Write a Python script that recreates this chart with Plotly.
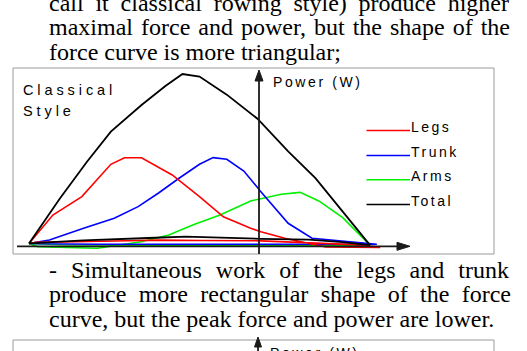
import json
import plotly.graph_objects as go

# ---------------- data (drive phase + recovery phase) ----------------
# x: handle position, % of drive length ; y: power (W)
legs_drive_x = [0, 7, 15.5, 24, 28, 33, 42, 50, 57, 65, 68, 75, 87, 103]
legs_drive = [15, 180, 287, 475, 513, 513, 413, 287, 170, 103, 83, 45, -6, -8]
legs_rec_x = [95, 68, 50, 38, 25, 2, 0]
legs_rec = [8, 30, 32, 34, 29, 21, 15]

trunk_drive_x = [0, 6, 16, 25, 32, 38, 44, 50, 54, 58, 63, 68, 76, 83, 102]
trunk_drive = [15, 35, 103, 161, 229, 308, 394, 475, 514, 504, 436, 316, 132, 45, 10]
trunk_rec_x = [80, 50, 20, 3, 0]
trunk_rec = [9, 10, 10, 13, 15]

arms_drive_x = [0, 2.5, 20, 33, 41, 48, 56, 65, 74, 79.5, 85, 92, 100]
arms_drive = [15, -4, -13, 25, 64, 122, 180, 262, 301, 312, 262, 165, 5]
arms_rec_x = [70, 40, 10, 0]
arms_rec = [4, 5, 7, 15]

total_drive_x = [0, 9, 17, 24, 33, 40, 45, 50, 58, 67, 76, 84, 92, 100]
total_drive = [15, 275, 490, 665, 820, 930, 1000, 985, 880, 740, 550, 395, 200, 5]
total_rec_x = [92, 82, 68, 54, 46, 37, 16, 0]
total_rec = [22, 37, 42, 48, 54, 48, 33, 15]

series_names = ["Legs", "Trunk", "Arms", "Total"]
series_colors = ["#ff0000", "#0000ff", "#00f000", "#000000"]

chart_title = ["Classical", "Style"]
y_label = "Power (W)"

para_top = ["call it classical rowing style) produce higher",
            "maximal force and power, but the shape of the",
            "force curve is more triangular;"]
para_bottom = ["- Simultaneous work of the legs and trunk",
               "produce more rectangular shape of the force",
               "curve, but the peak force and power are lower."]

# ---------------- layout helpers ----------------
W, H = 527, 351
def px(x):
    return x / W
def py(y):
    return 1 - y / H

X0, XS = 29.0, 3.41      # pixel of x=0, pixels per unit
Y0, YS = 246.0, 0.172    # pixel of power=0, pixels per W

fig = go.Figure()
series = [
    ("Arms", arms_drive_x + arms_rec_x, arms_drive + arms_rec, series_colors[2], 1.6),
    ("Trunk", trunk_drive_x + trunk_rec_x, trunk_drive + trunk_rec, series_colors[1], 1.6),
    ("Legs", legs_drive_x + legs_rec_x, legs_drive + legs_rec, series_colors[0], 1.6),
    ("Total", total_drive_x + total_rec_x, total_drive + total_rec, series_colors[3], 1.8),
]
for name, xs, ys, col, w in series:
    fig.add_trace(go.Scatter(x=xs, y=ys, mode="lines", name=name,
                             line=dict(color=col, width=w), showlegend=False,
                             hoverinfo="skip"))

shapes = []
ax_col = "#1a1a1a"
# chart frames
shapes.append(dict(type="rect", xref="paper", yref="paper",
                   x0=px(13), x1=px(494), y0=py(254), y1=py(68),
                   line=dict(color="#9a9a9a", width=1)))
shapes.append(dict(type="rect", xref="paper", yref="paper",
                   x0=px(13), x1=px(494), y0=py(380), y1=py(340),
                   line=dict(color="#9a9a9a", width=1)))
# x axis arrow
shapes.append(dict(type="line", xref="paper", yref="paper",
                   x0=px(17), x1=px(400), y0=py(246.3), y1=py(246.3),
                   line=dict(color=ax_col, width=1.8)))
shapes.append(dict(type="path", xref="paper", yref="paper",
                   path=f"M{px(410)},{py(246.3)} L{px(397)},{py(242.3)} L{px(397)},{py(250.3)} Z",
                   fillcolor=ax_col, line=dict(color=ax_col, width=1)))
# y axis arrow
shapes.append(dict(type="line", xref="paper", yref="paper",
                   x0=px(259), x1=px(259), y0=py(254), y1=py(78),
                   line=dict(color=ax_col, width=1.8)))
shapes.append(dict(type="path", xref="paper", yref="paper",
                   path=f"M{px(259)},{py(70)} L{px(255)},{py(81)} L{px(263)},{py(81)} Z",
                   fillcolor=ax_col, line=dict(color=ax_col, width=1)))
# lower chart y axis arrow (cut by the page edge)
shapes.append(dict(type="line", xref="paper", yref="paper",
                   x0=px(258), x1=px(258), y0=py(380), y1=py(344),
                   line=dict(color=ax_col, width=1.8)))
shapes.append(dict(type="path", xref="paper", yref="paper",
                   path=f"M{px(258)},{py(337)} L{px(254.5)},{py(347)} L{px(261.5)},{py(347)} Z",
                   fillcolor=ax_col, line=dict(color=ax_col, width=1)))

annotations = []
serif = "Liberation Serif, Times New Roman, serif"
sans = "Liberation Sans, Arial, sans-serif"
FS = 24

def text(t, x, yc, size, family, color="black"):
    annotations.append(dict(text=t, xref="paper", yref="paper", x=px(x), y=py(yc),
                            xanchor="left", yanchor="middle", align="left",
                            showarrow=False, borderpad=0,
                            font=dict(family=family, size=size, color=color)))

top_base = [11, 35.6, 60.1]
for t, b in zip(para_top, top_base):
    text(t, 47.5, b - 0.3375 * FS, FS, serif)
bot_base = [277.7, 302.2, 326.7]
for t, b in zip(para_bottom, bot_base):
    text(t, 47.5, b - 0.3375 * FS, FS, serif)

# chart labels
CF = 14.5
text(chart_title[0], 22, 95.3 - 0.3465 * CF, CF, sans)
text(chart_title[1], 22, 116 - 0.3465 * CF, CF, sans)
text(y_label, 272, 86.7 - 0.3465 * 14, 14, sans)
text(y_label, 269, 357.5 - 0.3465 * 14, 14, sans)

# legend
leg_base = [131.7, 156.7, 181.0, 205.7]
for name, col, b in zip(series_names, series_colors, leg_base):
    shapes.append(dict(type="line", xref="paper", yref="paper",
                       x0=px(366.5), x1=px(410), y0=py(b - 1.2), y1=py(b - 1.2),
                       line=dict(color=col, width=1.6)))
    text(name, 410, b - 0.3465 * 14, 14, sans)

fig.update_layout(
    width=W, height=H, autosize=False,
    margin=dict(l=0, r=0, t=0, b=0),
    paper_bgcolor="white", plot_bgcolor="white",
    xaxis=dict(range=[(0 - X0) / XS, (W - X0) / XS], visible=False, fixedrange=True),
    yaxis=dict(range=[(Y0 - H) / YS, Y0 / YS], visible=False, fixedrange=True),
    shapes=shapes, annotations=annotations, showlegend=False,
)

spacing = {chart_title[0]: 3.9, chart_title[1]: 3.9, y_label: 2.6}
for n in series_names:
    spacing[n] = 2.5
justify = {para_top[0]: 460, para_top[1]: 461, para_bottom[0]: 460, para_bottom[1]: 462}

post = """
var gd = document.getElementById('{plot_id}');
var SP = %s; var JU = %s;
gd.querySelectorAll('.annotation-text').forEach(function(t){
  var s = t.textContent.replace(/\\u00a0/g, ' ').trim();
  if (SP[s] !== undefined) { t.style.letterSpacing = SP[s] + 'px'; }
  if (JU[s] !== undefined) {
    t.style.wordSpacing = '0px';
    var L = t.getComputedTextLength();
    var n = (s.match(/ /g) || []).length;
    if (n > 0) { t.style.wordSpacing = ((JU[s] - L) / n) + 'px'; }
  }
});
""" % (json.dumps(spacing), json.dumps(justify))

fig.write_html("out.html", config={"displayModeBar": False, "staticPlot": True},
               post_script=post)
